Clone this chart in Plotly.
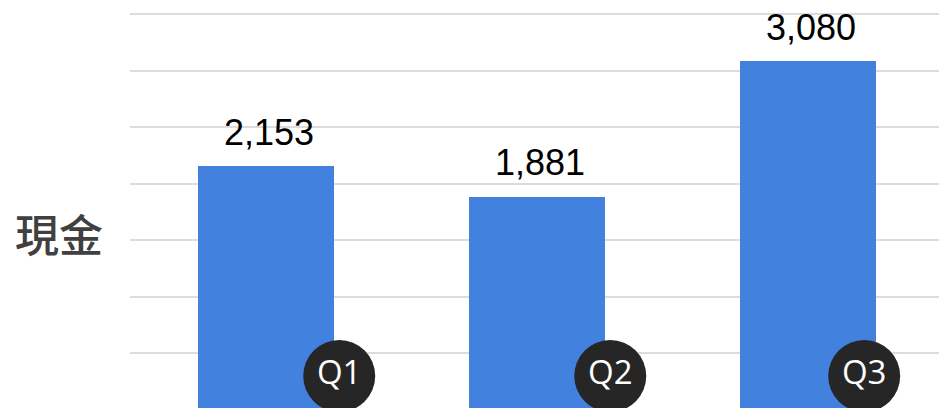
import plotly.graph_objects as go

categories = ["Q1", "Q2", "Q3"]
values = [2153, 1881, 3080]
value_labels = ["2,153", "1,881", "3,080"]
row_label = "現金"

x_pos = list(range(len(categories)))
bar_color = "#4281de"

fig = go.Figure()
fig.add_trace(go.Bar(
    x=x_pos, y=values, width=0.502, marker=dict(color=bar_color, line=dict(width=0)),
    hoverinfo="skip", showlegend=False,
))

# quarter badges (dark circles at bar bottom-right)
badge_offsets = [0.27, 0.27, 0.207]
fig.add_trace(go.Scatter(
    x=[i + o for i, o in zip(x_pos, badge_offsets)],
    y=[296] * len(categories),
    mode="markers+text",
    marker=dict(size=72, color="#262626", line=dict(width=0)),
    text=categories, textposition="middle center",
    textfont=dict(family="Open Sans, sans-serif", size=33, color="white"),
    cliponaxis=False, showlegend=False, hoverinfo="skip",
))

annotations = []
for i, (v, lab) in enumerate(zip(values, value_labels)):
    annotations.append(dict(
        x=i, y=v, xref="x", yref="y", text=lab, showarrow=False,
        yanchor="middle", yshift=34, xshift=3,
        font=dict(family="Liberation Sans, Arial, sans-serif", size=36, color="#000000"),
    ))
annotations.append(dict(
    xref="paper", yref="paper", x=(58.5 - 130) / 809, y=(408 - 233) / 408,
    text=row_label, showarrow=False, xanchor="center", yanchor="middle",
    font=dict(family="Noto Sans CJK TC, sans-serif", size=44, color="#404040", weight=500),
))

fig.update_layout(
    width=939, height=408,
    margin=dict(l=130, r=0, t=0, b=0),
    paper_bgcolor="white", plot_bgcolor="white",
    xaxis=dict(range=[-0.502, 2.483], showticklabels=False, showgrid=False,
               zeroline=False, showline=False, fixedrange=True),
    yaxis=dict(range=[13.3, 3624], tick0=0, dtick=500, showticklabels=False,
               showgrid=True, gridcolor="#dcdcdc", gridwidth=2,
               zeroline=False, showline=False, fixedrange=True),
    annotations=annotations,
    bargap=0,
)

fig.write_html("out.html", config={"displayModeBar": False},
               post_script="document.body.style.margin='0';document.body.style.overflow='hidden';")
